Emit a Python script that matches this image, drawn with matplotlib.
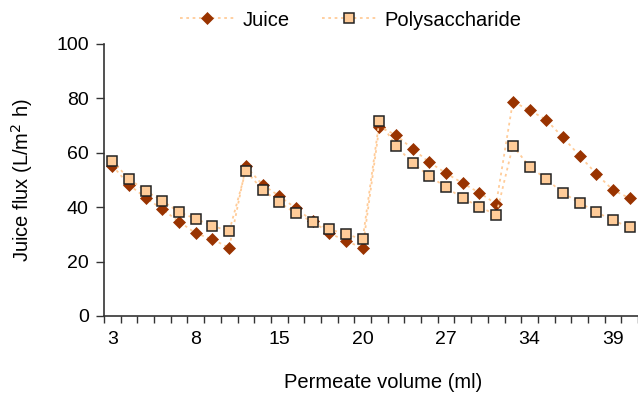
import matplotlib
matplotlib.use("Agg")
import matplotlib.pyplot as plt
import numpy as np

plt.rcParams['font.family'] = ['Liberation Sans', 'DejaVu Sans']

tick_labels = ["3", "8", "15", "20", "27", "34", "39"]
juice = [55.3, 48.2, 43.5, 39.2, 34.7, 30.4, 28.2, 25.1,
         55.0, 48.3, 44.1, 39.6, 34.9, 30.4, 27.7, 24.9,
         69.6, 66.5, 61.4, 56.5, 52.5, 48.8, 45.3, 41.2,
         78.8, 75.7, 72.1, 65.7, 58.9, 52.3, 46.3, 43.3]
poly = [57.0, 50.4, 46.0, 42.3, 38.2, 35.7, 33.2, 31.1,
        53.4, 46.4, 41.8, 37.7, 34.7, 31.9, 30.1, 28.2,
        71.7, 62.6, 56.1, 51.5, 47.3, 43.3, 40.2, 37.1,
        62.6, 54.9, 50.4, 45.2, 41.7, 38.2, 35.2, 32.6]

x = np.arange(len(juice))
line_col = '#FFCC99'
W, H = 638, 399

fig = plt.figure(figsize=(6.38, 3.99), dpi=100)
ax = fig.add_axes([104 / W, 1 - 316 / H, 534 / W, 272 / H])

ax.plot(x, juice, linestyle=(0, (1.5, 2)), color=line_col, lw=1.3,
        marker='D', markersize=6.5, markerfacecolor='#993300',
        markeredgecolor='#993300', markeredgewidth=0.5, label='Juice')
ax.plot(x, poly, linestyle=(0, (1.5, 2)), color=line_col, lw=1.3,
        marker='s', markersize=6.5, markerfacecolor='#FFCC99',
        markeredgecolor='#222222', markeredgewidth=1.1, label='Polysaccharide')

ax.set_xlim(-0.5, len(juice) - 0.5)
ax.set_ylim(0, 100)
ax.set_yticks(np.arange(0, 101, 20))
ax.set_xticks(np.arange(0, 31, 5))
ax.set_xticklabels(tick_labels)
ax.set_xticks(np.arange(-0.5, len(juice), 1), minor=True)
ax.tick_params(axis='x', which='major', length=0, pad=11, labelsize=14)
ax.tick_params(axis='x', which='minor', length=5, width=1, color='#333333', direction='out')
ax.tick_params(axis='y', length=6, width=1, color='#333333', labelsize=14, pad=5)

for s in ['top', 'right']:
    ax.spines[s].set_visible(False)
for s in ['left', 'bottom']:
    ax.spines[s].set_color('#333333')
    ax.spines[s].set_linewidth(1.2)

ax.set_xlabel('Permeate volume (ml)', fontsize=14.5)
ax.set_ylabel('Juice flux (L/m$^2$ h)', fontsize=14.5)
ax.xaxis.label.set_va('center')
ax.yaxis.label.set_va('center')
ax.xaxis.set_label_coords((383 - 104) / 534, (316 - 383) / 272)
ax.yaxis.set_label_coords((22 - 104) / 534, 0.5)

fig.legend(loc='center left', bbox_to_anchor=(180 / W, 1 - 20 / H), ncol=2, frameon=False,
           fontsize=14.5, handlelength=2.7, handletextpad=0.4, columnspacing=1.6,
           borderpad=0, borderaxespad=0)

fig.savefig('out.png', dpi=100)
